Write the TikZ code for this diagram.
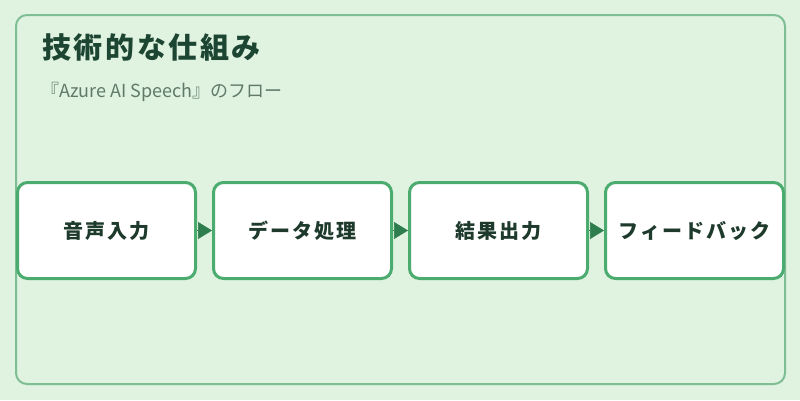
\documentclass[tikz,border=0pt]{standalone}
\usepackage{fontspec}
\newfontfamily\jp{Noto Sans CJK JP}
\newfontfamily\jpsp{Noto Sans CJK JP}[LetterSpace=10]
\newfontfamily\jptitle{Noto Sans CJK JP}[LetterSpace=9]
\usetikzlibrary{arrows.meta}
\definecolor{bgc}{RGB}{224,242,224}
\definecolor{panelc}{RGB}{126,190,148}
\definecolor{boxc}{RGB}{76,172,112}
\definecolor{arrc}{RGB}{46,125,78}
\definecolor{titlec}{RGB}{28,69,50}
\definecolor{subc}{RGB}{96,122,106}
\definecolor{txtc}{RGB}{30,58,44}
\tikzset{
  stepbox/.style={draw=boxc, line width=3pt, fill=white, rounded corners=10pt,
    minimum width=178pt, minimum height=96pt, inner sep=0pt, outer sep=1.5pt,
    font=\jpsp\bfseries\fontsize{20pt}{24pt}\selectfont, text=txtc},
  flow/.style={draw=arrc, line width=0.5pt, -{Triangle[length=14pt,width=17pt]}, arrc}
}
\begin{document}
\begin{tikzpicture}[x=1pt,y=-1pt]
\useasboundingbox (0,0) rectangle (800,400);
\fill[bgc] (0,0) rectangle (800,400);
\draw[panelc, line width=2pt, rounded corners=11pt] (16,15) rectangle (785,384);
\node[anchor=west, inner sep=0pt, text=titlec, font=\jptitle\bfseries\fontsize{29pt}{33pt}\selectfont] (title) at (42,47.5) {技術的な仕組み};
\node[anchor=base west, inner sep=0pt, text=subc, font=\jp\fontsize{18pt}{22pt}\selectfont] (sub) at (41,97) {『Azure AI Speech』のフロー};
\node[stepbox] (b1) at (106.5,230.5) {音声入力};
\node[stepbox] (b2) at (302.5,230.5) {データ処理};
\node[stepbox] (b3) at (498.5,230.5) {結果出力};
\node[stepbox] (b4) at (694.5,230.5) {フィードバック};
\draw[flow] (b1.east) -- (b2.west);
\draw[flow] (b2.east) -- (b3.west);
\draw[flow] (b3.east) -- (b4.west);
\end{tikzpicture}
\end{document}
